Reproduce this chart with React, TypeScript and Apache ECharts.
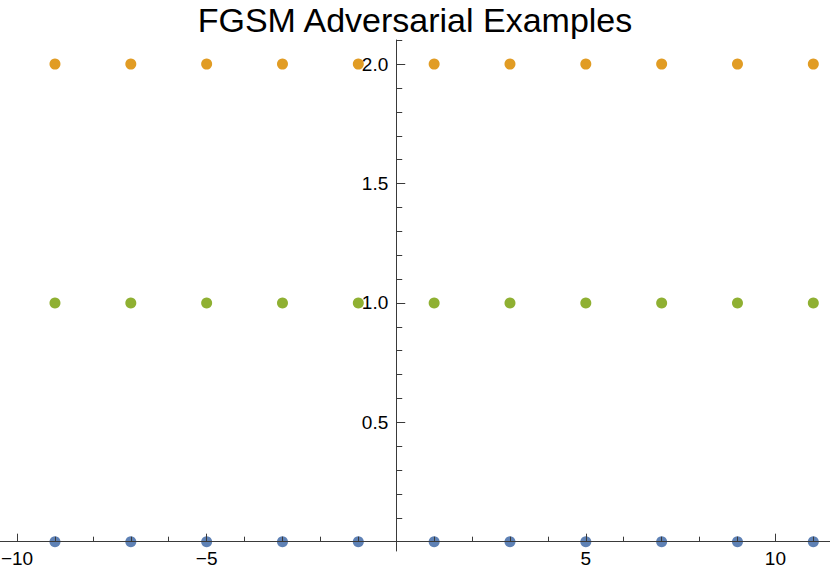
import React, { useEffect, useRef } from "react";
import * as echarts from "echarts";

const TITLE = "FGSM Adversarial Examples";
const xValues = [-9, -7, -5, -3, -1, 1, 3, 5, 7, 9, 11];
const classBlue = [0, 0, 0, 0, 0, 0, 0, 0, 0, 0, 0];
const classOrange = [2, 2, 2, 2, 2, 2, 2, 2, 2, 2, 2];
const classGreen = [1, 1, 1, 1, 1, 1, 1, 1, 1, 1, 1];

const xMajorTicks = [-10, -5, 5, 10];
const xMinorTicks = [-10, -9, -8, -7, -6, -5, -4, -3, -2, -1, 1, 2, 3, 4, 5, 6, 7, 8, 9, 10, 11];
const yMajorTicks = [0.5, 1, 1.5, 2];
const yMinorTicks = [0.1, 0.2, 0.3, 0.4, 0.5, 0.6, 0.7, 0.8, 0.9, 1, 1.1, 1.2, 1.3, 1.4, 1.5, 1.6, 1.7, 1.8, 1.9, 2, 2.1];

const X_MIN = -10.45;
const X_MAX = 11.44;
const Y_MIN = -0.039;
const Y_MAX = 2.101;

const W = 830;
const H = 572;
const GRID_TOP = 40;
const GRID_BOTTOM = 21;

const AXIS_COLOR = "#3a3a3a";
const FONT = "'Liberation Sans', Arial, sans-serif";

const zip = (ys: number[]) => xValues.map((x, i) => [x, ys[i]]);

export default function App() {
  const ref = useRef<HTMLDivElement>(null);
  useEffect(() => {
    if (!ref.current) return;
    const chart = echarts.init(ref.current, undefined, { renderer: "svg" });
    const gridH = H - GRID_TOP - GRID_BOTTOM;
    // offsets to place axes at the origin
    const yAxisOffset = -((0 - X_MIN) / (X_MAX - X_MIN)) * W;
    const xAxisOffset = -((0 - Y_MIN) / (Y_MAX - Y_MIN)) * gridH;
    const gridRect = { left: 0, right: 0, top: GRID_TOP, bottom: GRID_BOTTOM, containLabel: false, outerBoundsMode: "none" };
    const scatter = (ys: number[], color: string) => ({
      type: "scatter",
      xAxisIndex: 0,
      yAxisIndex: 0,
      symbol: "circle",
      symbolSize: 11,
      itemStyle: { color, opacity: 1 },
      emphasis: { disabled: true },
      data: zip(ys),
      z: 2,
    });
    chart.setOption({
      animation: false,
      backgroundColor: "#ffffff",
      title: {
        text: TITLE,
        left: "center",
        top: 3,
        padding: 0,
        textStyle: { fontFamily: FONT, fontSize: 34, fontWeight: "normal", color: "#000" },
      },
      grid: [{ ...gridRect }, { ...gridRect }],
      xAxis: [
        {
          type: "value",
          gridIndex: 0,
          min: X_MIN,
          max: X_MAX,
          position: "bottom",
          offset: xAxisOffset,
          z: 5,
          axisLine: { show: true, onZero: false, lineStyle: { color: AXIS_COLOR, width: 1 } },
          axisTick: { show: true, inside: true, length: 8, customValues: xMajorTicks, lineStyle: { color: AXIS_COLOR } },
          axisLabel: {
            show: true,
            customValues: xMajorTicks,
            margin: 7,
            fontFamily: FONT,
            fontSize: 19,
            color: "#000",
            formatter: (v: number) => String(v).replace("-", "\u2212"),
          },
          splitLine: { show: false },
        },
        {
          type: "value",
          gridIndex: 1,
          min: X_MIN,
          max: X_MAX,
          position: "bottom",
          offset: xAxisOffset,
          z: 5,
          axisLine: { show: false, onZero: false },
          axisTick: { show: true, inside: true, length: 5, customValues: xMinorTicks, lineStyle: { color: AXIS_COLOR } },
          axisLabel: { show: false },
          splitLine: { show: false },
        },
      ],
      yAxis: [
        {
          type: "value",
          gridIndex: 0,
          min: Y_MIN,
          max: Y_MAX,
          position: "left",
          offset: yAxisOffset,
          z: 5,
          axisLine: { show: true, onZero: false, lineStyle: { color: AXIS_COLOR, width: 1 } },
          axisTick: { show: true, inside: true, length: 9, customValues: yMajorTicks, lineStyle: { color: AXIS_COLOR } },
          axisLabel: {
            show: true,
            customValues: yMajorTicks,
            margin: 8,
            fontFamily: FONT,
            fontSize: 19,
            color: "#000",
            formatter: (v: number) => v.toFixed(1),
          },
          splitLine: { show: false },
        },
        {
          type: "value",
          gridIndex: 1,
          min: Y_MIN,
          max: Y_MAX,
          position: "left",
          offset: yAxisOffset,
          z: 5,
          axisLine: { show: false, onZero: false },
          axisTick: { show: true, inside: true, length: 6, customValues: yMinorTicks, lineStyle: { color: AXIS_COLOR } },
          axisLabel: { show: false },
          splitLine: { show: false },
        },
      ],
      series: [
        scatter(classBlue, "#5E81B5"),
        scatter(classOrange, "#E19C24"),
        scatter(classGreen, "#8FB032"),
      ],
    });
    return () => chart.dispose();
  }, []);
  return (
    <div
      ref={ref}
      style={{ position: "fixed", left: 0, top: 0, width: W, height: H }}
    />
  );
}
